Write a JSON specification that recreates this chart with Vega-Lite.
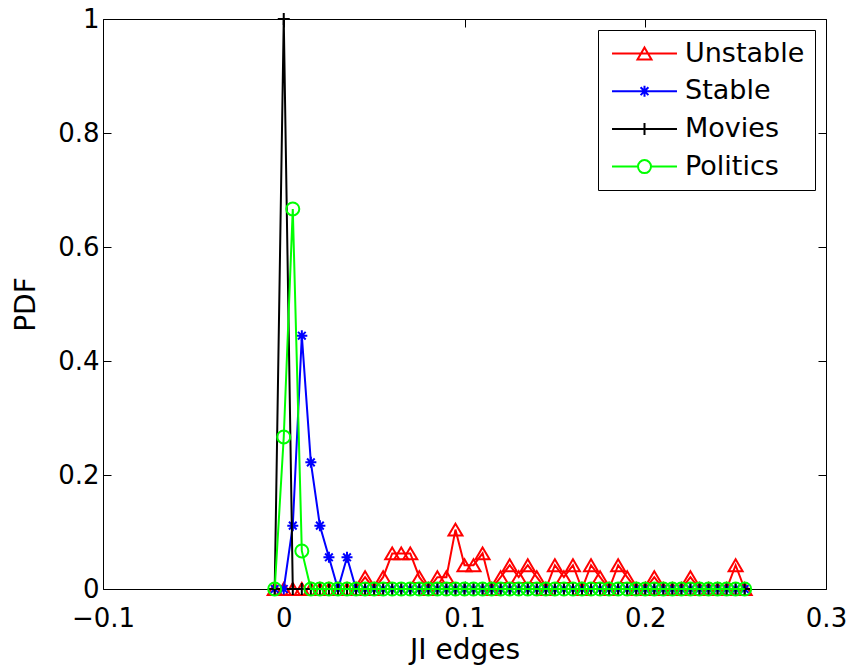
{
  "$schema": "https://vega.github.io/schema/vega-lite/v6.json",
  "width": 723,
  "height": 570,
  "autosize": "none",
  "padding": {"left": 103, "top": 19, "right": 26, "bottom": 78},
  "background": "white",
  "config": {
    "view": {"stroke": "black", "strokeWidth": 1},
    "font": "DejaVu Sans",
    "axis": {
      "labelFont": "DejaVu Sans",
      "labelFontSize": 26,
      "labelColor": "black",
      "titleFont": "DejaVu Sans",
      "titleFontSize": 28,
      "titleFontWeight": "normal",
      "titleColor": "black",
      "tickColor": "black",
      "tickWidth": 1,
      "grid": false,
      "domain": false
    }
  },
  "data": {
    "values": [
      {"series": "Unstable", "x": -0.005, "pdf": 0},
      {"series": "Unstable", "x": 0, "pdf": 0},
      {"series": "Unstable", "x": 0.005, "pdf": 0},
      {"series": "Unstable", "x": 0.01, "pdf": 0},
      {"series": "Unstable", "x": 0.015, "pdf": 0},
      {"series": "Unstable", "x": 0.02, "pdf": 0},
      {"series": "Unstable", "x": 0.025, "pdf": 0},
      {"series": "Unstable", "x": 0.03, "pdf": 0},
      {"series": "Unstable", "x": 0.035, "pdf": 0},
      {"series": "Unstable", "x": 0.04, "pdf": 0},
      {"series": "Unstable", "x": 0.045, "pdf": 0.0208},
      {"series": "Unstable", "x": 0.05, "pdf": 0},
      {"series": "Unstable", "x": 0.055, "pdf": 0.0208},
      {"series": "Unstable", "x": 0.06, "pdf": 0.0625},
      {"series": "Unstable", "x": 0.065, "pdf": 0.0625},
      {"series": "Unstable", "x": 0.07, "pdf": 0.0625},
      {"series": "Unstable", "x": 0.075, "pdf": 0.0208},
      {"series": "Unstable", "x": 0.08, "pdf": 0},
      {"series": "Unstable", "x": 0.085, "pdf": 0.0208},
      {"series": "Unstable", "x": 0.09, "pdf": 0.0208},
      {"series": "Unstable", "x": 0.095, "pdf": 0.1042},
      {"series": "Unstable", "x": 0.1, "pdf": 0.0417},
      {"series": "Unstable", "x": 0.105, "pdf": 0.0417},
      {"series": "Unstable", "x": 0.11, "pdf": 0.0625},
      {"series": "Unstable", "x": 0.115, "pdf": 0},
      {"series": "Unstable", "x": 0.12, "pdf": 0.0208},
      {"series": "Unstable", "x": 0.125, "pdf": 0.0417},
      {"series": "Unstable", "x": 0.13, "pdf": 0.0208},
      {"series": "Unstable", "x": 0.135, "pdf": 0.0417},
      {"series": "Unstable", "x": 0.14, "pdf": 0.0208},
      {"series": "Unstable", "x": 0.145, "pdf": 0},
      {"series": "Unstable", "x": 0.15, "pdf": 0.0417},
      {"series": "Unstable", "x": 0.155, "pdf": 0.0208},
      {"series": "Unstable", "x": 0.16, "pdf": 0.0417},
      {"series": "Unstable", "x": 0.165, "pdf": 0},
      {"series": "Unstable", "x": 0.17, "pdf": 0.0417},
      {"series": "Unstable", "x": 0.175, "pdf": 0.0208},
      {"series": "Unstable", "x": 0.18, "pdf": 0},
      {"series": "Unstable", "x": 0.185, "pdf": 0.0417},
      {"series": "Unstable", "x": 0.19, "pdf": 0.0208},
      {"series": "Unstable", "x": 0.195, "pdf": 0},
      {"series": "Unstable", "x": 0.2, "pdf": 0},
      {"series": "Unstable", "x": 0.205, "pdf": 0.0208},
      {"series": "Unstable", "x": 0.21, "pdf": 0},
      {"series": "Unstable", "x": 0.215, "pdf": 0},
      {"series": "Unstable", "x": 0.22, "pdf": 0},
      {"series": "Unstable", "x": 0.225, "pdf": 0.0208},
      {"series": "Unstable", "x": 0.23, "pdf": 0},
      {"series": "Unstable", "x": 0.235, "pdf": 0},
      {"series": "Unstable", "x": 0.24, "pdf": 0},
      {"series": "Unstable", "x": 0.245, "pdf": 0},
      {"series": "Unstable", "x": 0.25, "pdf": 0.0417},
      {"series": "Unstable", "x": 0.255, "pdf": 0},

      {"series": "Stable", "x": -0.005, "pdf": 0},
      {"series": "Stable", "x": 0, "pdf": 0},
      {"series": "Stable", "x": 0.005, "pdf": 0.1111},
      {"series": "Stable", "x": 0.01, "pdf": 0.4444},
      {"series": "Stable", "x": 0.015, "pdf": 0.2222},
      {"series": "Stable", "x": 0.02, "pdf": 0.1111},
      {"series": "Stable", "x": 0.025, "pdf": 0.0556},
      {"series": "Stable", "x": 0.03, "pdf": 0},
      {"series": "Stable", "x": 0.035, "pdf": 0.0556},
      {"series": "Stable", "x": 0.04, "pdf": 0},
      {"series": "Stable", "x": 0.045, "pdf": 0},
      {"series": "Stable", "x": 0.05, "pdf": 0},
      {"series": "Stable", "x": 0.055, "pdf": 0},
      {"series": "Stable", "x": 0.06, "pdf": 0},
      {"series": "Stable", "x": 0.065, "pdf": 0},
      {"series": "Stable", "x": 0.07, "pdf": 0},
      {"series": "Stable", "x": 0.075, "pdf": 0},
      {"series": "Stable", "x": 0.08, "pdf": 0},
      {"series": "Stable", "x": 0.085, "pdf": 0},
      {"series": "Stable", "x": 0.09, "pdf": 0},
      {"series": "Stable", "x": 0.095, "pdf": 0},
      {"series": "Stable", "x": 0.1, "pdf": 0},
      {"series": "Stable", "x": 0.105, "pdf": 0},
      {"series": "Stable", "x": 0.11, "pdf": 0},
      {"series": "Stable", "x": 0.115, "pdf": 0},
      {"series": "Stable", "x": 0.12, "pdf": 0},
      {"series": "Stable", "x": 0.125, "pdf": 0},
      {"series": "Stable", "x": 0.13, "pdf": 0},
      {"series": "Stable", "x": 0.135, "pdf": 0},
      {"series": "Stable", "x": 0.14, "pdf": 0},
      {"series": "Stable", "x": 0.145, "pdf": 0},
      {"series": "Stable", "x": 0.15, "pdf": 0},
      {"series": "Stable", "x": 0.155, "pdf": 0},
      {"series": "Stable", "x": 0.16, "pdf": 0},
      {"series": "Stable", "x": 0.165, "pdf": 0},
      {"series": "Stable", "x": 0.17, "pdf": 0},
      {"series": "Stable", "x": 0.175, "pdf": 0},
      {"series": "Stable", "x": 0.18, "pdf": 0},
      {"series": "Stable", "x": 0.185, "pdf": 0},
      {"series": "Stable", "x": 0.19, "pdf": 0},
      {"series": "Stable", "x": 0.195, "pdf": 0},
      {"series": "Stable", "x": 0.2, "pdf": 0},
      {"series": "Stable", "x": 0.205, "pdf": 0},
      {"series": "Stable", "x": 0.21, "pdf": 0},
      {"series": "Stable", "x": 0.215, "pdf": 0},
      {"series": "Stable", "x": 0.22, "pdf": 0},
      {"series": "Stable", "x": 0.225, "pdf": 0},
      {"series": "Stable", "x": 0.23, "pdf": 0},
      {"series": "Stable", "x": 0.235, "pdf": 0},
      {"series": "Stable", "x": 0.24, "pdf": 0},
      {"series": "Stable", "x": 0.245, "pdf": 0},
      {"series": "Stable", "x": 0.25, "pdf": 0},
      {"series": "Stable", "x": 0.255, "pdf": 0},

      {"series": "Movies", "x": -0.005, "pdf": 0},
      {"series": "Movies", "x": 0, "pdf": 1},
      {"series": "Movies", "x": 0.005, "pdf": 0},
      {"series": "Movies", "x": 0.01, "pdf": 0},
      {"series": "Movies", "x": 0.015, "pdf": 0},
      {"series": "Movies", "x": 0.02, "pdf": 0},
      {"series": "Movies", "x": 0.025, "pdf": 0},
      {"series": "Movies", "x": 0.03, "pdf": 0},
      {"series": "Movies", "x": 0.035, "pdf": 0},
      {"series": "Movies", "x": 0.04, "pdf": 0},
      {"series": "Movies", "x": 0.045, "pdf": 0},
      {"series": "Movies", "x": 0.05, "pdf": 0},
      {"series": "Movies", "x": 0.055, "pdf": 0},
      {"series": "Movies", "x": 0.06, "pdf": 0},
      {"series": "Movies", "x": 0.065, "pdf": 0},
      {"series": "Movies", "x": 0.07, "pdf": 0},
      {"series": "Movies", "x": 0.075, "pdf": 0},
      {"series": "Movies", "x": 0.08, "pdf": 0},
      {"series": "Movies", "x": 0.085, "pdf": 0},
      {"series": "Movies", "x": 0.09, "pdf": 0},
      {"series": "Movies", "x": 0.095, "pdf": 0},
      {"series": "Movies", "x": 0.1, "pdf": 0},
      {"series": "Movies", "x": 0.105, "pdf": 0},
      {"series": "Movies", "x": 0.11, "pdf": 0},
      {"series": "Movies", "x": 0.115, "pdf": 0},
      {"series": "Movies", "x": 0.12, "pdf": 0},
      {"series": "Movies", "x": 0.125, "pdf": 0},
      {"series": "Movies", "x": 0.13, "pdf": 0},
      {"series": "Movies", "x": 0.135, "pdf": 0},
      {"series": "Movies", "x": 0.14, "pdf": 0},
      {"series": "Movies", "x": 0.145, "pdf": 0},
      {"series": "Movies", "x": 0.15, "pdf": 0},
      {"series": "Movies", "x": 0.155, "pdf": 0},
      {"series": "Movies", "x": 0.16, "pdf": 0},
      {"series": "Movies", "x": 0.165, "pdf": 0},
      {"series": "Movies", "x": 0.17, "pdf": 0},
      {"series": "Movies", "x": 0.175, "pdf": 0},
      {"series": "Movies", "x": 0.18, "pdf": 0},
      {"series": "Movies", "x": 0.185, "pdf": 0},
      {"series": "Movies", "x": 0.19, "pdf": 0},
      {"series": "Movies", "x": 0.195, "pdf": 0},
      {"series": "Movies", "x": 0.2, "pdf": 0},
      {"series": "Movies", "x": 0.205, "pdf": 0},
      {"series": "Movies", "x": 0.21, "pdf": 0},
      {"series": "Movies", "x": 0.215, "pdf": 0},
      {"series": "Movies", "x": 0.22, "pdf": 0},
      {"series": "Movies", "x": 0.225, "pdf": 0},
      {"series": "Movies", "x": 0.23, "pdf": 0},
      {"series": "Movies", "x": 0.235, "pdf": 0},
      {"series": "Movies", "x": 0.24, "pdf": 0},
      {"series": "Movies", "x": 0.245, "pdf": 0},
      {"series": "Movies", "x": 0.25, "pdf": 0},
      {"series": "Movies", "x": 0.255, "pdf": 0},

      {"series": "Politics", "x": -0.005, "pdf": 0},
      {"series": "Politics", "x": 0, "pdf": 0.2667},
      {"series": "Politics", "x": 0.005, "pdf": 0.6667},
      {"series": "Politics", "x": 0.01, "pdf": 0.0667},
      {"series": "Politics", "x": 0.015, "pdf": 0},
      {"series": "Politics", "x": 0.02, "pdf": 0},
      {"series": "Politics", "x": 0.025, "pdf": 0},
      {"series": "Politics", "x": 0.03, "pdf": 0},
      {"series": "Politics", "x": 0.035, "pdf": 0},
      {"series": "Politics", "x": 0.04, "pdf": 0},
      {"series": "Politics", "x": 0.045, "pdf": 0},
      {"series": "Politics", "x": 0.05, "pdf": 0},
      {"series": "Politics", "x": 0.055, "pdf": 0},
      {"series": "Politics", "x": 0.06, "pdf": 0},
      {"series": "Politics", "x": 0.065, "pdf": 0},
      {"series": "Politics", "x": 0.07, "pdf": 0},
      {"series": "Politics", "x": 0.075, "pdf": 0},
      {"series": "Politics", "x": 0.08, "pdf": 0},
      {"series": "Politics", "x": 0.085, "pdf": 0},
      {"series": "Politics", "x": 0.09, "pdf": 0},
      {"series": "Politics", "x": 0.095, "pdf": 0},
      {"series": "Politics", "x": 0.1, "pdf": 0},
      {"series": "Politics", "x": 0.105, "pdf": 0},
      {"series": "Politics", "x": 0.11, "pdf": 0},
      {"series": "Politics", "x": 0.115, "pdf": 0},
      {"series": "Politics", "x": 0.12, "pdf": 0},
      {"series": "Politics", "x": 0.125, "pdf": 0},
      {"series": "Politics", "x": 0.13, "pdf": 0},
      {"series": "Politics", "x": 0.135, "pdf": 0},
      {"series": "Politics", "x": 0.14, "pdf": 0},
      {"series": "Politics", "x": 0.145, "pdf": 0},
      {"series": "Politics", "x": 0.15, "pdf": 0},
      {"series": "Politics", "x": 0.155, "pdf": 0},
      {"series": "Politics", "x": 0.16, "pdf": 0},
      {"series": "Politics", "x": 0.165, "pdf": 0},
      {"series": "Politics", "x": 0.17, "pdf": 0},
      {"series": "Politics", "x": 0.175, "pdf": 0},
      {"series": "Politics", "x": 0.18, "pdf": 0},
      {"series": "Politics", "x": 0.185, "pdf": 0},
      {"series": "Politics", "x": 0.19, "pdf": 0},
      {"series": "Politics", "x": 0.195, "pdf": 0},
      {"series": "Politics", "x": 0.2, "pdf": 0},
      {"series": "Politics", "x": 0.205, "pdf": 0},
      {"series": "Politics", "x": 0.21, "pdf": 0},
      {"series": "Politics", "x": 0.215, "pdf": 0},
      {"series": "Politics", "x": 0.22, "pdf": 0},
      {"series": "Politics", "x": 0.225, "pdf": 0},
      {"series": "Politics", "x": 0.23, "pdf": 0},
      {"series": "Politics", "x": 0.235, "pdf": 0},
      {"series": "Politics", "x": 0.24, "pdf": 0},
      {"series": "Politics", "x": 0.245, "pdf": 0},
      {"series": "Politics", "x": 0.25, "pdf": 0},
      {"series": "Politics", "x": 0.255, "pdf": 0}
    ]
  },
  "resolve": {"axis": {"x": "independent", "y": "independent"}},
  "layer": [
    {
      "transform": [{"filter": "datum.series === 'Unstable'"}],
      "mark": {"type": "line", "strokeWidth": 2, "point": {"shape": "M0,-0.85L1,0.85L-1,0.85Z", "filled": false, "size": 196, "strokeWidth": 2}},
      "encoding": {
        "x": {"field": "x", "type": "quantitative", "scale": {"domain": [-0.1, 0.3], "nice": false, "zero": false},
              "axis": {"orient": "bottom", "values": [-0.1, 0, 0.1, 0.2, 0.3], "format": "~g", "labelFlush": false, "tickSize": -8, "labelPadding": 24, "title": "JI edges", "titlePadding": 5,
                       "encode": {"labels": {"update": {"dx": {"signal": "datum.value < 0 ? -10 : 0"}}}}}},
        "y": {"field": "pdf", "type": "quantitative", "scale": {"domain": [0, 1], "nice": false},
              "axis": {"orient": "left", "values": [0, 0.2, 0.4, 0.6, 0.8, 1], "format": "~g", "labelFlush": false, "tickSize": -8, "labelPadding": 12, "title": "PDF", "titlePadding": 17}},
        "color": {"field": "series", "type": "nominal",
                  "scale": {"domain": ["Unstable", "Stable", "Movies", "Politics"], "range": ["#ff0000", "#0000ff", "#000000", "#00ff00"]},
                  "legend": {
                    "title": null, "orient": "top-right", "offset": 11, "padding": 10,
                    "strokeColor": "black", "fillColor": "white",
                    "labelFont": "DejaVu Sans", "labelFontSize": 27, "labelColor": "black",
                    "symbolSize": 196, "symbolStrokeWidth": 2, "labelOffset": 27, "symbolOffset": 23, "rowPadding": 9.7,
                    "encode": {"symbols": {"update": {
                      "shape": {"signal": "datum.value === 'Unstable' ? 'M-4.64,0H4.64M0,-0.85L1,0.85L-1,0.85Z' : datum.value === 'Stable' ? 'M-4.64,0H4.64M0,-0.79V0.79M-0.56,-0.56L0.56,0.56M-0.56,0.56L0.56,-0.56' : datum.value === 'Movies' ? 'M-4.64,0H4.64M0,-0.86V0.86' : 'M-4.64,0H-0.93M0.93,0H4.64M0.93,0A0.93,0.93,0,1,1,-0.93,0A0.93,0.93,0,1,1,0.93,0'"},
                      "fill": {"value": "transparent"},
                      "strokeWidth": {"value": 2}
                    }}}
                  }}
      }
    },
    {
      "transform": [{"filter": "datum.series === 'Stable'"}],
      "mark": {"type": "line", "strokeWidth": 2, "point": {"shape": "M-1,0H1M0,-1V1M-0.7,-0.7L0.7,0.7M-0.7,0.7L0.7,-0.7", "filled": false, "size": 121, "strokeWidth": 2}},
      "encoding": {
        "x": {"field": "x", "type": "quantitative", "axis": null},
        "y": {"field": "pdf", "type": "quantitative", "axis": null},
        "color": {"field": "series", "type": "nominal"}
      }
    },
    {
      "transform": [{"filter": "datum.series === 'Movies'"}],
      "mark": {"type": "line", "strokeWidth": 2, "point": {"shape": "M-1,0H1M0,-1V1", "filled": false, "size": 144, "strokeWidth": 2}},
      "encoding": {
        "x": {"field": "x", "type": "quantitative", "axis": null},
        "y": {"field": "pdf", "type": "quantitative", "axis": null},
        "color": {"field": "series", "type": "nominal"}
      }
    },
    {
      "transform": [{"filter": "datum.series === 'Politics'"}],
      "mark": {"type": "line", "strokeWidth": 2, "point": {"shape": "circle", "filled": false, "size": 169, "strokeWidth": 2}},
      "encoding": {
        "x": {"field": "x", "type": "quantitative", "axis": null},
        "y": {"field": "pdf", "type": "quantitative", "axis": null},
        "color": {"field": "series", "type": "nominal"}
      }
    },
    {
      "mark": {"type": "point", "opacity": 0},
      "encoding": {
        "x": {"field": "x", "type": "quantitative",
              "axis": {"orient": "top", "values": [-0.1, 0, 0.1, 0.2, 0.3], "labels": false, "tickSize": -8, "title": null}},
        "y": {"field": "pdf", "type": "quantitative",
              "axis": {"orient": "right", "values": [0, 0.2, 0.4, 0.6, 0.8, 1], "labels": false, "tickSize": -8, "title": null}}
      }
    }
  ]
}
